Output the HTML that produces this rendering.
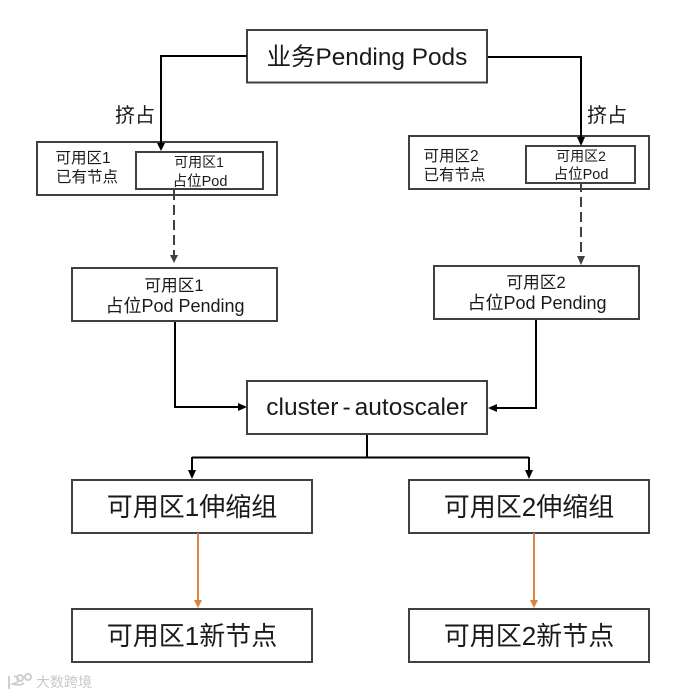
<!DOCTYPE html>
<html><head><meta charset="utf-8">
<style>
html,body{margin:0;padding:0;background:#fff}
svg{display:block}
text{font-family:"Liberation Sans","Noto Sans CJK SC",sans-serif;fill:#1a1a1a;text-anchor:middle}
rect{fill:none;stroke:#404040;stroke-width:2}
</style></head><body>
<svg width="699" height="696" viewBox="0 0 699 696" xmlns="http://www.w3.org/2000/svg">
<rect x="247" y="30" width="240" height="52.5"/>
<rect x="37" y="142" width="240" height="53"/>
<rect x="136" y="152" width="127" height="37"/>
<rect x="72" y="268" width="205" height="53"/>
<rect x="409" y="136" width="240" height="53"/>
<rect x="526" y="146" width="109" height="37"/>
<rect x="434" y="266" width="205" height="53"/>
<rect x="247" y="381" width="240" height="53"/>
<rect x="72" y="480" width="240" height="53"/>
<rect x="409" y="480" width="240" height="53"/>
<rect x="72" y="609" width="240" height="53"/>
<rect x="409" y="609" width="240" height="53"/>

<g fill="none" stroke="#000" stroke-width="2">
<path d="M247 56H161V144"/>
<path d="M488 57H581V138"/>
<path d="M175 322V407H239"/>
<path d="M536 320V408H496"/>
<path d="M367 435V457.500M192 457.500H529M192 457V471M529 457V471"/>
</g>
<g fill="#000">
<path d="M157 143H165L161 151Z"/>
<path d="M577 137H585L581 146Z"/>
<path d="M238 403L247 407L238 411Z"/>
<path d="M497 404L488 408L497 412Z"/>
<path d="M188 470H196L192 479Z"/>
<path d="M525 470H533L529 479Z"/>
</g>
<g fill="none" stroke="#404040" stroke-width="2" stroke-dasharray="10 5">
<path d="M174 190V256"/>
<path d="M581 182V257"/>
</g>
<g fill="#404040">
<path d="M170 255H178L174 263Z"/>
<path d="M577 256H585L581 265Z"/>
</g>
<g fill="none" stroke="#e2813f" stroke-width="2">
<path d="M198 533V601"/>
<path d="M534 533V601"/>
</g>
<g fill="#e2813f">
<path d="M194 600H202L198 608Z"/>
<path d="M530 600H538L534 608Z"/>
</g>

<text x="367" y="65" font-size="24.400">业务Pending Pods</text>
<text x="135" y="122" font-size="20">挤占</text>
<text x="607" y="122" font-size="20">挤占</text>
<text x="83" y="163" font-size="15.500">可用区1</text>
<text x="87" y="182" font-size="15.500">已有节点</text>
<text x="199" y="167" font-size="14">可用区1</text>
<text x="200" y="186" font-size="14.500">占位Pod</text>
<text x="174" y="291" font-size="16.700">可用区1</text>
<text x="175" y="312" font-size="18">占位Pod Pending</text>
<text x="451" y="161" font-size="15.500">可用区2</text>
<text x="454.500" y="180" font-size="15.500">已有节点</text>
<text x="581" y="161" font-size="14">可用区2</text>
<text x="581" y="179" font-size="14.500">占位Pod</text>
<text x="536" y="288" font-size="16.700">可用区2</text>
<text x="537" y="309" font-size="18">占位Pod Pending</text>
<text x="367" y="415" font-size="24.500">cluster<tspan dx="4">-</tspan><tspan dx="4">autoscaler</tspan></text>
<text x="192" y="516" font-size="26">可用区1伸缩组</text>
<text x="529" y="516" font-size="26">可用区2伸缩组</text>
<text x="192" y="645" font-size="26">可用区1新节点</text>
<text x="529" y="645" font-size="26">可用区2新节点</text>

<g opacity="0.4">
<path d="M9 676V689M14 676Q24 680 13 684Q20 686 24 683M20 675a3 3 0 1 0 .1 0M28 674a3 3 0 1 0 .1 0" fill="none" stroke="#888" stroke-width="2"/>
<text x="64" y="687" font-size="14" style="fill:#777">大数跨境</text>
</g>
</svg>
</body></html>
